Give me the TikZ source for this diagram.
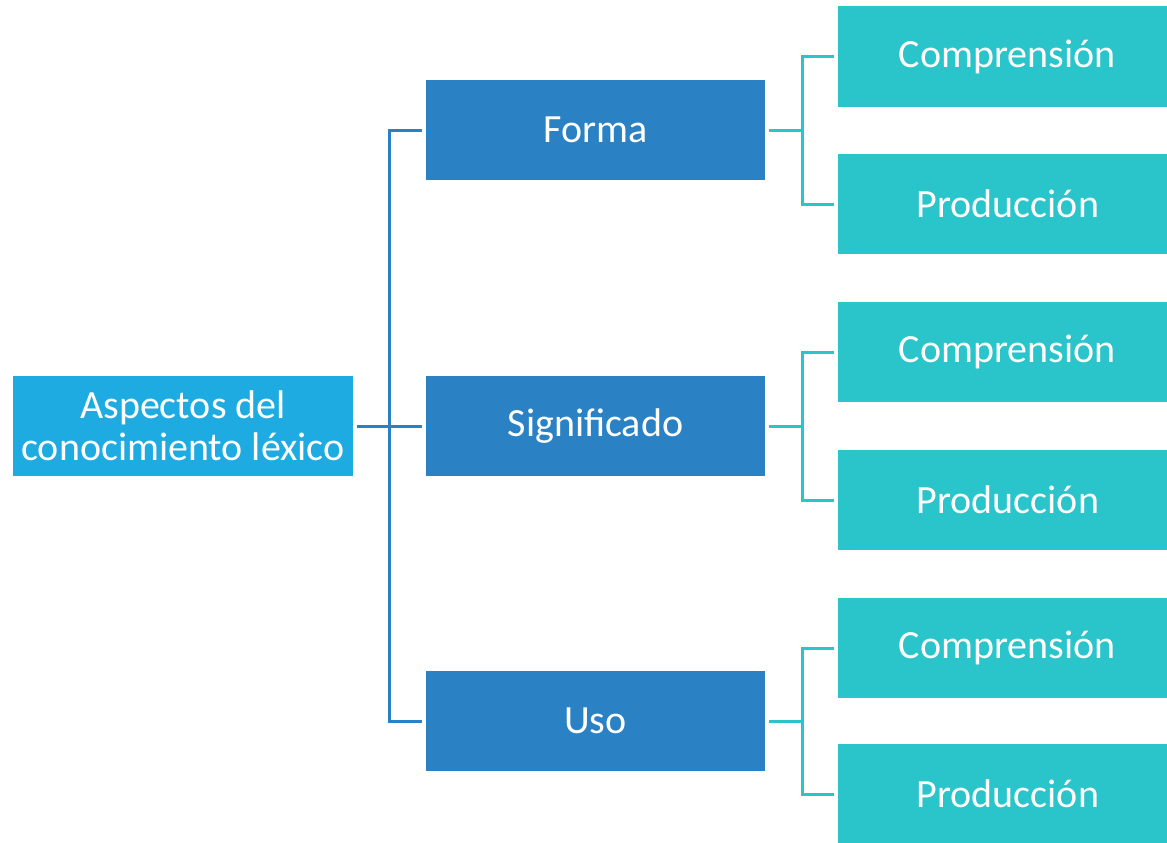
\documentclass[tikz,border=0pt]{standalone}
\usepackage{fontspec}
\setmainfont{Carlito}
\definecolor{rootc}{HTML}{1EABE2}
\definecolor{midc}{HTML}{2A82C5}
\definecolor{leafc}{HTML}{2AC4CB}
\begin{document}
\begin{tikzpicture}[x=1pt,y=-1pt,
  box/.style={rectangle,inner sep=0pt,text=white,font=\fontsize{40}{42}\selectfont,align=center},
  rootbox/.style={box,fill=rootc,minimum width=340pt,minimum height=100pt},
  midbox/.style={box,fill=midc,minimum width=339pt,minimum height=100pt},
  leafbox/.style={box,fill=leafc,minimum width=329pt,minimum height=100pt},
  blueline/.style={draw=midc,line width=3pt},
  tealline/.style={draw=leafc,line width=3pt}]
\useasboundingbox (0,0) rectangle (1167,843);
\node[rootbox] (root) at (183,426) {Aspectos del\\conocimiento léxico};
\node[midbox] (forma) at (595.5,130) {Forma};
\node[midbox] (sig) at (595.5,426) {Significado};
\node[midbox] (uso) at (595.5,721) {Uso};
\node[leafbox] (c1) at (1002.5,56.5) {\hspace*{9pt}\raisebox{-2pt}{Comprensión}};
\node[leafbox] (p1) at (1002.5,204) {\hspace*{11pt}Producción};
\node[leafbox] (c2) at (1002.5,352) {\hspace*{9pt}\raisebox{-2pt}{Comprensión}};
\node[leafbox] (p2) at (1002.5,500) {\hspace*{11pt}Producción};
\node[leafbox] (c3) at (1002.5,648) {\hspace*{9pt}\raisebox{-2pt}{Comprensión}};
\node[leafbox] (p3) at (1002.5,794) {\hspace*{11pt}Producción};
\coordinate (trunk) at (389,426);
\draw[blueline] ([xshift=4pt]root.east) -- ([xshift=-4pt]sig.west);
\draw[blueline] ([xshift=-4pt]forma.west) -| (trunk) |- ([xshift=-4pt]uso.west);
\foreach \m/\c/\p in {forma/c1/p1,sig/c2/p2,uso/c3/p3}{
  \coordinate (j\m) at ([xshift=37pt]\m.east);
  \draw[tealline] ([xshift=4pt]\m.east) -- (j\m);
  \draw[tealline] ([xshift=-4pt]\c.west) -| (j\m) |- ([xshift=-4pt]\p.west);
}
\end{tikzpicture}
\end{document}
